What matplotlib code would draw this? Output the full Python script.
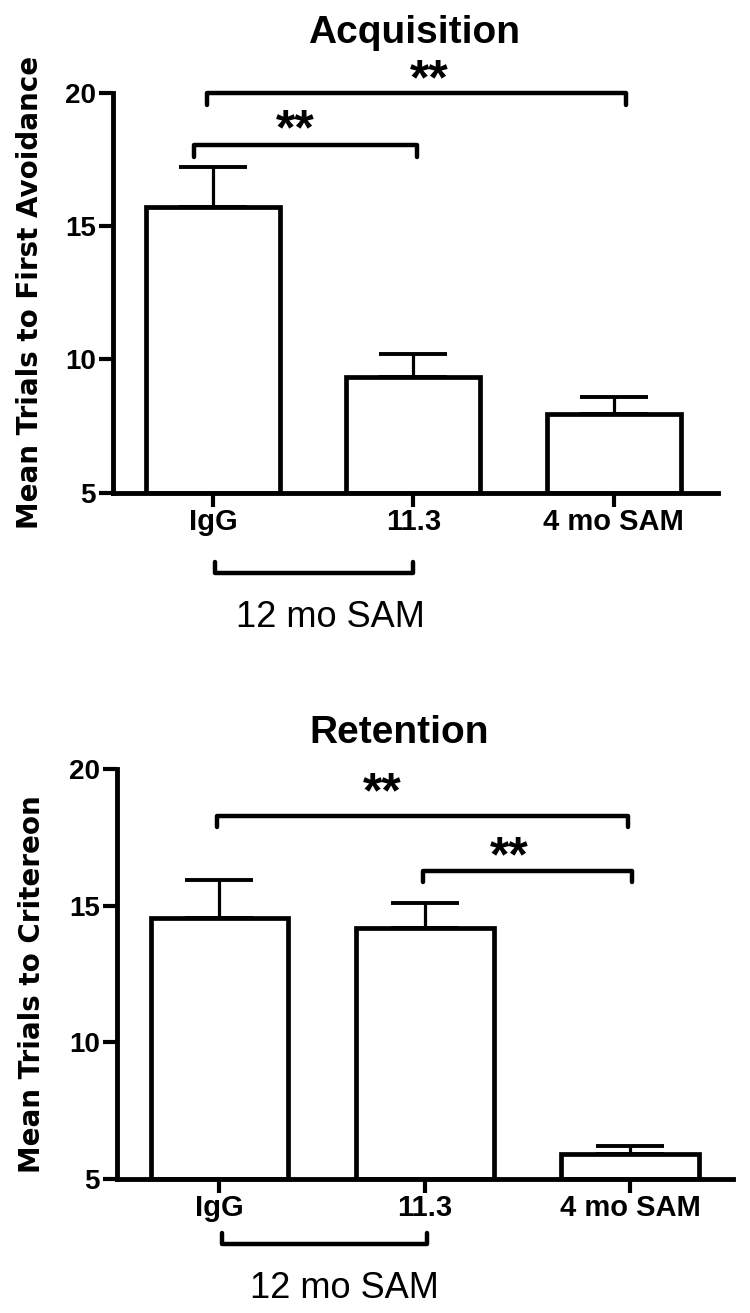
import matplotlib.pyplot as plt
import numpy as np

plt.rcParams['font.family'] = ['Liberation Sans', 'DejaVu Sans']
plt.rcParams['font.weight'] = 'bold'

# data
groups = ['IgG', '11.3', '4 mo SAM']
acq_mean = [15.7, 9.35, 7.95]
acq_sem = [1.5, 0.85, 0.65]
ret_mean = [14.55, 14.18, 5.92]
ret_sem = [1.4, 0.94, 0.3]
yticks = [5, 10, 15, 20]

# significance brackets: x start, x end, height, star x, star y
acq_sig = [(-0.095, 1.02, 18.05, 0.41, 19.0),
           (-0.03, 2.06, 20.0, 1.08, 20.85)]
ret_sig = [(-0.01, 1.99, 18.3, 0.795, 19.5),
           (0.99, 2.01, 16.29, 1.41, 17.16)]

LW = 3.5
STAR_FS = 36


def draw_panel(ax, means, sems, ylab, title, title_xy, sig, grp_bracket, grp_text, xmax, drop):
    x = np.arange(len(groups))
    means = np.array(means)
    ax.errorbar(x, means, yerr=[np.zeros(len(x)), sems], fmt='none', ecolor='black',
                elinewidth=2.3, capsize=24.5, capthick=2.8, zorder=1)
    ax.bar(x, means - 5, bottom=5, width=0.67, facecolor='white', edgecolor='black',
           linewidth=3.4, zorder=2)

    ax.set_xlim(-0.5, xmax)
    ax.set_ylim(5, 20)
    ax.set_yticks(yticks)
    ax.set_xticks(x)
    ax.set_xticklabels(groups, fontsize=21)
    ax.tick_params(axis='y', labelsize=20, width=3, length=10, pad=2)
    ax.tick_params(axis='x', width=3, length=10, pad=1)
    for s in ['top', 'right']:
        ax.spines[s].set_visible(False)
    for s in ['left', 'bottom']:
        ax.spines[s].set_linewidth(LW)
    ax.spines['left'].set_bounds(5, 20)

    ax.set_ylabel(ylab, fontsize=20, family='DejaVu Sans', fontweight='bold')
    ax.text(title_xy[0], title_xy[1], title, transform=ax.transAxes, ha='center',
            va='baseline', fontsize=28)

    for x0, x1, y, sx, sy in sig:
        ax.plot([x0, x0, x1, x1], [y - drop, y, y, y - drop], color='black', lw=3.2,
                clip_on=False, solid_capstyle='round', solid_joinstyle='round')
        ax.annotate('**', xy=(sx, sy), xytext=(0, -0.23 * STAR_FS), textcoords='offset points',
                    ha='center', va='center', fontsize=STAR_FS, annotation_clip=False)

    bx0, bx1, by, tip = grp_bracket
    ax.plot([bx0, bx0, bx1, bx1], [by + tip, by, by, by + tip], color='black', lw=3.2,
            clip_on=False, solid_capstyle='round', solid_joinstyle='round')
    ax.text(grp_text[0], grp_text[1], '12 mo SAM', ha='center', va='center',
            fontsize=26, fontweight='normal', clip_on=False)


fig = plt.figure(figsize=(7.5, 13.13), dpi=100)
W, H = 750, 1313
ax1 = fig.add_axes([112.7 / W, 1 - 492.7 / H, (718 - 112.7) / W, 400 / H])
ax2 = fig.add_axes([116.7 / W, 1 - 1179 / H, (733 - 116.7) / W, (1179 - 769.3) / H])

draw_panel(ax1, acq_mean, acq_sem, 'Mean Trials to First Avoidance', 'Acquisition',
           (0.498, 1.124), acq_sig, (0.01, 1.0, 1.99, 0.41), (0.585, 0.32), 2.52, 0.45)
draw_panel(ax2, ret_mean, ret_sem, 'Mean Trials to Critereon', 'Retention',
           (0.458, 1.064), ret_sig, (0.015, 1.01, 2.62, 0.4), (0.61, 1.0), 2.5, 0.42)

ax1.yaxis.set_label_coords((44 - 112.7) / 605, 0.5)
ax2.yaxis.set_label_coords((46 - 116.7) / 616, 0.475)

fig.savefig('out.png', dpi=100, facecolor='white')
